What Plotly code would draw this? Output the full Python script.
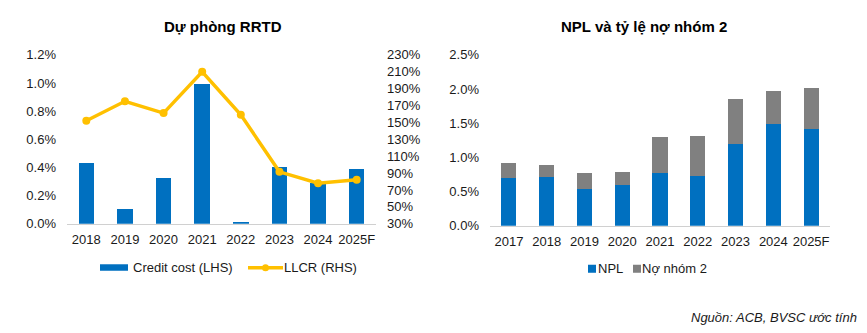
import plotly.graph_objects as go

# Left panel: credit cost and loan-loss coverage ratio
years_left = ["2018", "2019", "2020", "2021", "2022", "2023", "2024", "2025F"]
credit_cost = [0.435, 0.107, 0.325, 0.994, 0.016, 0.40, 0.29, 0.39]
llcr = [152, 175, 161, 210, 159, 91.5, 78, 82]

# Right panel: NPL and group-2 debt ratio (stacked)
years_right = ["2017", "2018", "2019", "2020", "2021", "2022", "2023", "2024", "2025F"]
npl = [0.70, 0.72, 0.536, 0.595, 0.775, 0.735, 1.20, 1.49, 1.41]
group2 = [0.225, 0.176, 0.24, 0.185, 0.525, 0.575, 0.66, 0.48, 0.60]

left_ticks = [0.0, 0.2, 0.4, 0.6, 0.8, 1.0, 1.2]
right_ticks = list(range(30, 231, 20))
npl_ticks = [0.0, 0.5, 1.0, 1.5, 2.0, 2.5]

BLUE = "#0070C0"
YELLOW = "#FFC000"
GREY = "#808080"
TEXT = "#1a1a1a"
FONT = "Liberation Sans, Arial, sans-serif"
W, H = 867, 333


def px_x(p):
    return p / W


def px_y(p):
    return 1 - p / H


fig = go.Figure()

fig.add_trace(go.Bar(
    x=years_left, y=credit_cost, name="Credit cost (LHS)",
    marker=dict(color=BLUE, line=dict(width=0)), width=0.4,
    xaxis="x", yaxis="y",
))
fig.add_trace(go.Scatter(
    x=years_left, y=llcr, name="LLCR (RHS)", mode="lines+markers",
    line=dict(color=YELLOW, width=3.5), marker=dict(color=YELLOW, size=8),
    xaxis="x", yaxis="y2",
))
fig.add_trace(go.Bar(
    x=years_right, y=npl, name="NPL",
    marker=dict(color=BLUE, line=dict(width=0)), width=0.4,
    xaxis="x3", yaxis="y3",
))
fig.add_trace(go.Bar(
    x=years_right, y=group2, name="Nợ nhóm 2",
    marker=dict(color=GREY, line=dict(width=0)), width=0.4,
    xaxis="x3", yaxis="y3",
))

tickfont = dict(family=FONT, size=13, color=TEXT)

# Legend keys drawn in paper coordinates
shapes = [
    dict(type="rect", xref="paper", yref="paper", x0=px_x(100), x1=px_x(128),
         y0=px_y(276.2), y1=px_y(269.4), fillcolor=BLUE, line=dict(width=0)),
    dict(type="line", xref="paper", yref="paper", x0=px_x(248), x1=px_x(283),
         y0=px_y(273.1), y1=px_y(273.1), line=dict(color=YELLOW, width=3.5)),
    dict(type="circle", xref="paper", yref="paper", x0=px_x(262), x1=px_x(269),
         y0=px_y(276.8), y1=px_y(269.4), fillcolor=YELLOW, line=dict(width=0)),
    dict(type="rect", xref="paper", yref="paper", x0=px_x(588), x1=px_x(596),
         y0=px_y(278.3), y1=px_y(269.9), fillcolor=BLUE, line=dict(width=0)),
    dict(type="rect", xref="paper", yref="paper", x0=px_x(633), x1=px_x(641),
         y0=px_y(278.3), y1=px_y(269.9), fillcolor=GREY, line=dict(width=0)),
]


def label(text, x, y, anchor="left", size=13, color=TEXT):
    return dict(text=text, x=px_x(x), y=px_y(y), xref="paper", yref="paper",
                showarrow=False, xanchor=anchor, yanchor="middle",
                font=dict(family=FONT, size=size, color=color))


annotations = [
    label("<b>Dự phòng RRTD</b>", 223, 20.7, "center", 15, "#000"),
    label("<b>NPL và tỷ lệ nợ nhóm 2</b>", 644, 20.7, "center", 15, "#000"),
    label("Credit cost (LHS)", 131, 273.1),
    label("LLCR (RHS)", 282, 273.1),
    label("NPL", 596, 274.1),
    label("Nợ nhóm 2", 640, 274.1),
    label("<i>Nguồn: ACB, BVSC ước tính</i>", 859, 325.4, "right", 13),
]

fig.update_layout(
    width=W, height=H,
    margin=dict(l=0, r=0, t=0, b=0),
    paper_bgcolor="white", plot_bgcolor="white",
    font=dict(family=FONT, size=13, color=TEXT),
    barmode="stack",
    showlegend=False,
    xaxis=dict(domain=[px_x(67), px_x(376)], range=[-0.5, 7.5], anchor="y",
               showline=True, linecolor="#d0d0d0", linewidth=1, ticks="",
               showgrid=False, tickfont=tickfont, ticklabelstandoff=4),
    yaxis=dict(domain=[px_y(227.0), px_y(50.1)], range=[0, 1.2], tickvals=left_ticks,
               ticktext=[f"{v:.1f}%" for v in left_ticks], showgrid=False,
               zeroline=False, showline=False, tickfont=tickfont, anchor="x",
               ticklabelstandoff=10),
    yaxis2=dict(domain=[px_y(227.0), px_y(50.1)], range=[30, 230], tickvals=right_ticks,
                ticktext=[f"{v}%" for v in right_ticks], overlaying="y", side="right",
                showgrid=False, zeroline=False, showline=False, tickfont=tickfont,
                anchor="x", ticklabelstandoff=10),
    xaxis3=dict(domain=[px_x(490), px_x(830)], range=[-0.5, 8.5], anchor="y3",
                showline=True, linecolor="#d0d0d0", linewidth=1, ticks="",
                showgrid=False, tickfont=tickfont, ticklabelstandoff=4),
    yaxis3=dict(domain=[px_y(229.1), px_y(50.1)], range=[0, 2.5], tickvals=npl_ticks,
                ticktext=[f"{v:.1f}%" for v in npl_ticks], showgrid=False,
                zeroline=False, showline=False, tickfont=tickfont, anchor="x3",
                ticklabelstandoff=10),
    shapes=shapes,
    annotations=annotations,
)

fig.write_html("out.html")
